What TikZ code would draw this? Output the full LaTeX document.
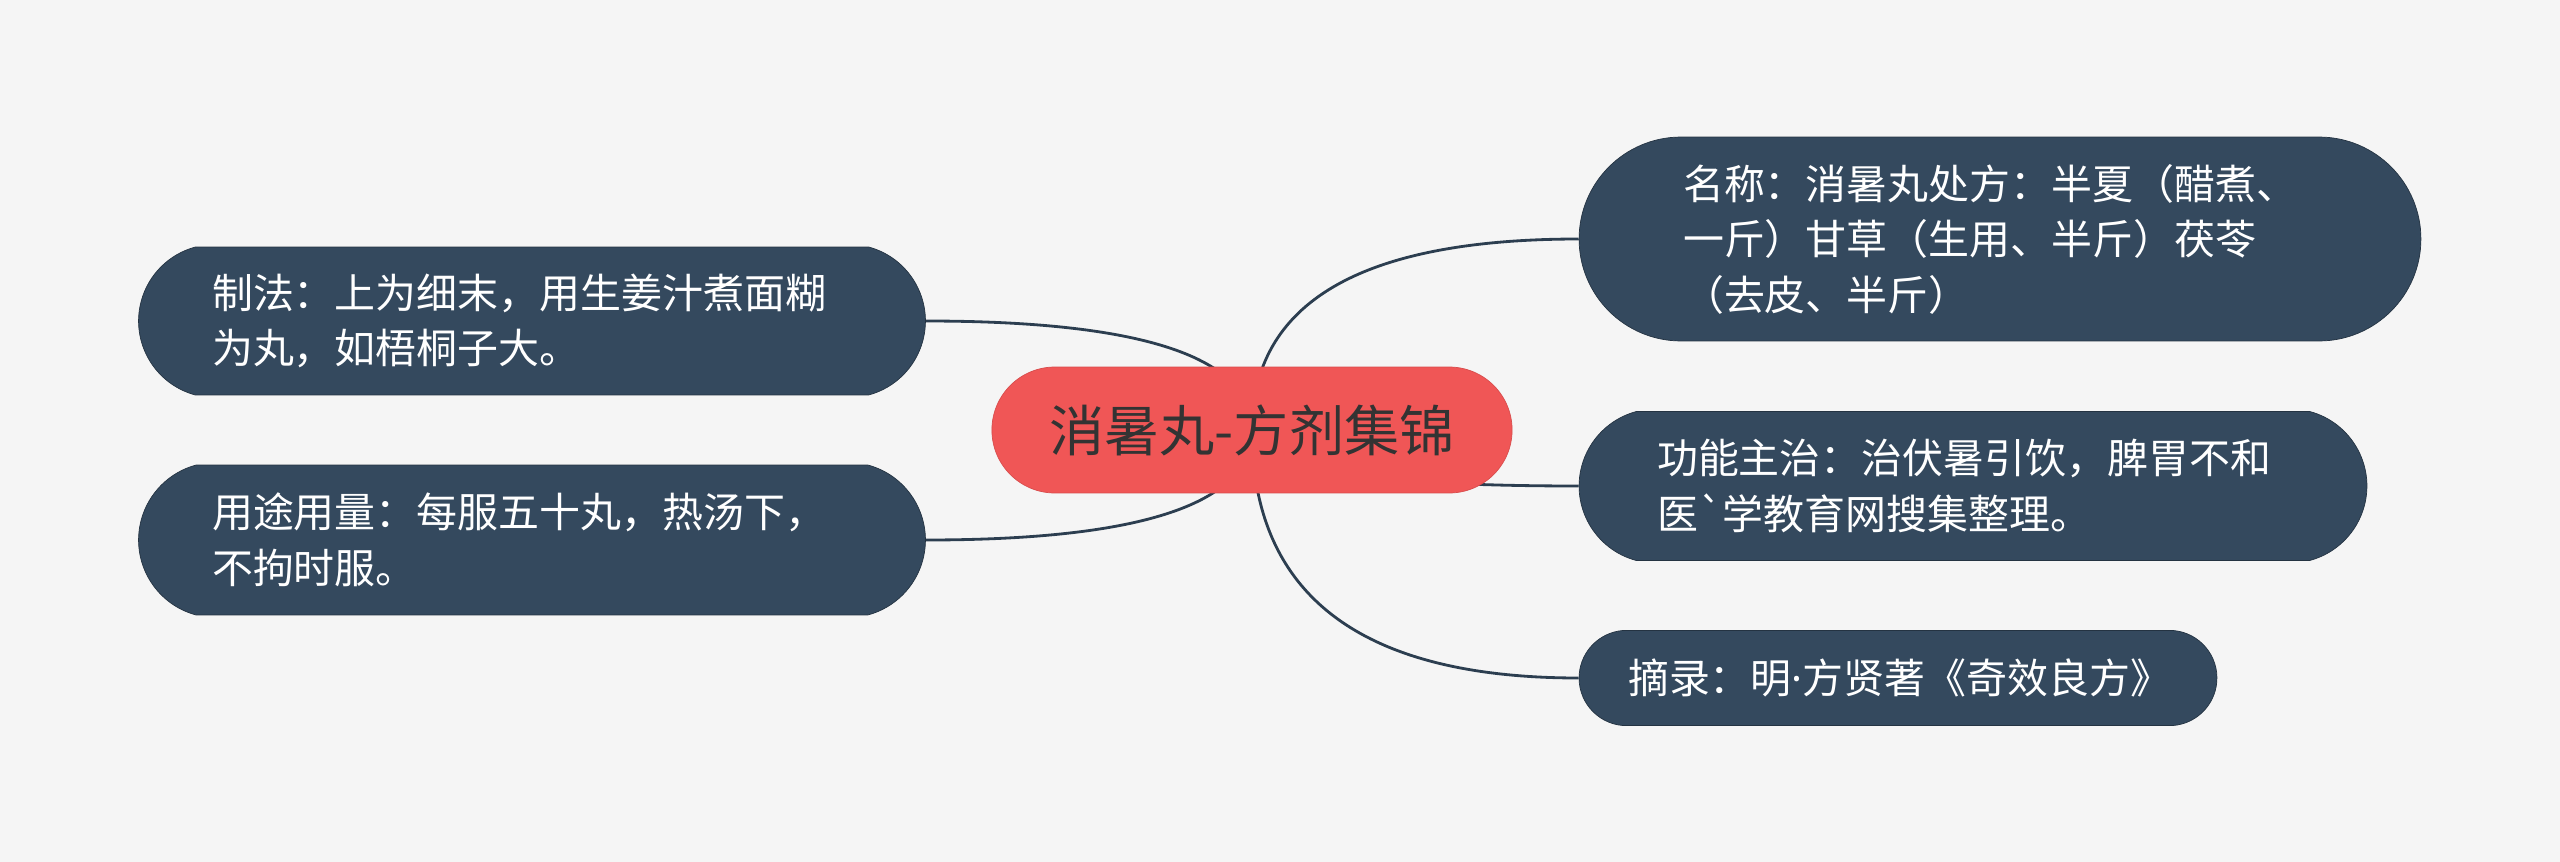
\documentclass[tikz,border=0pt]{standalone}
\usepackage{fontspec}
\newfontfamily\cjk{Noto Sans CJK SC}
\newfontfamily\latin{Noto Sans}
\usetikzlibrary{shapes.misc,calc}
\definecolor{fundo}{HTML}{F5F5F5}
\definecolor{ardosia}{HTML}{34495E}
\definecolor{coral}{HTML}{F05656}
\definecolor{tinta}{HTML}{333333}
\pgfdeclarelayer{bg}
\pgfsetlayers{bg,main}
\begin{document}
\begin{tikzpicture}[x=0.02cm,y=-0.02cm,
  titulo/.style={rounded rectangle,rounded rectangle arc length=180,draw=coral!90!black,fill=coral,text=tinta,font=\cjk\fontsize{31.4}{38}\selectfont,minimum width=10.64cm,minimum height=2.52cm},
  caixa/.style={rounded rectangle,rounded rectangle arc length=#1,draw=ardosia!70!black,fill=ardosia,text=white,align=left,font=\cjk\fontsize{23.3}{31.6}\selectfont,inner sep=0pt},
  caixa/.default=150,
  ramo/.style={line width=1.6pt,ardosia!85!black}]
\useasboundingbox (0,0) rectangle (2560,862);
\node[titulo] (raiz) at (1252,430) {消暑丸-方剂集锦};
\node[caixa=180,text width=12.68cm,minimum width=16.84cm,minimum height=4.08cm] (nome) at (2000,239) {名称：消暑丸处方：半夏（醋煮、\\一斤）甘草（生用、半斤）茯苓\\（去皮、半斤）};
\node[caixa,text width=12.64cm,minimum width=15.76cm,minimum height=2.98cm] (funcao) at (1973,486) {功能主治：治伏暑引饮，脾胃不和\\医`学教育网搜集整理。};
\node[caixa=170,text width=10.8cm,minimum width=12.76cm,minimum height=1.9cm] (fonte) at (1898,678) {摘录：明{\latin ·}方贤著《奇效良方》};
\node[caixa,text width=12.8cm,minimum width=15.74cm,minimum height=2.96cm] (preparo) at (532,321) {制法：上为细末，用生姜汁煮面糊\\为丸，如梧桐子大。};
\node[caixa,text width=12.8cm,minimum width=15.74cm,minimum height=3cm] (uso) at (532,540) {用途用量：每服五十丸，热汤下，\\不拘时服。};
\begin{pgfonlayer}{bg}
\fill[fundo] (0,0) rectangle (2560,862);
\foreach \n/\s in {nome/west,funcao/west,fonte/west,preparo/east,uso/east}
  \draw[ramo] (raiz.center) .. controls ($(raiz.center)!0.667!(raiz.center |- \n.\s)$) and ($(\n.\s)!0.667!(raiz.center |- \n.\s)$) .. (\n.\s);
\end{pgfonlayer}
\end{tikzpicture}
\end{document}
